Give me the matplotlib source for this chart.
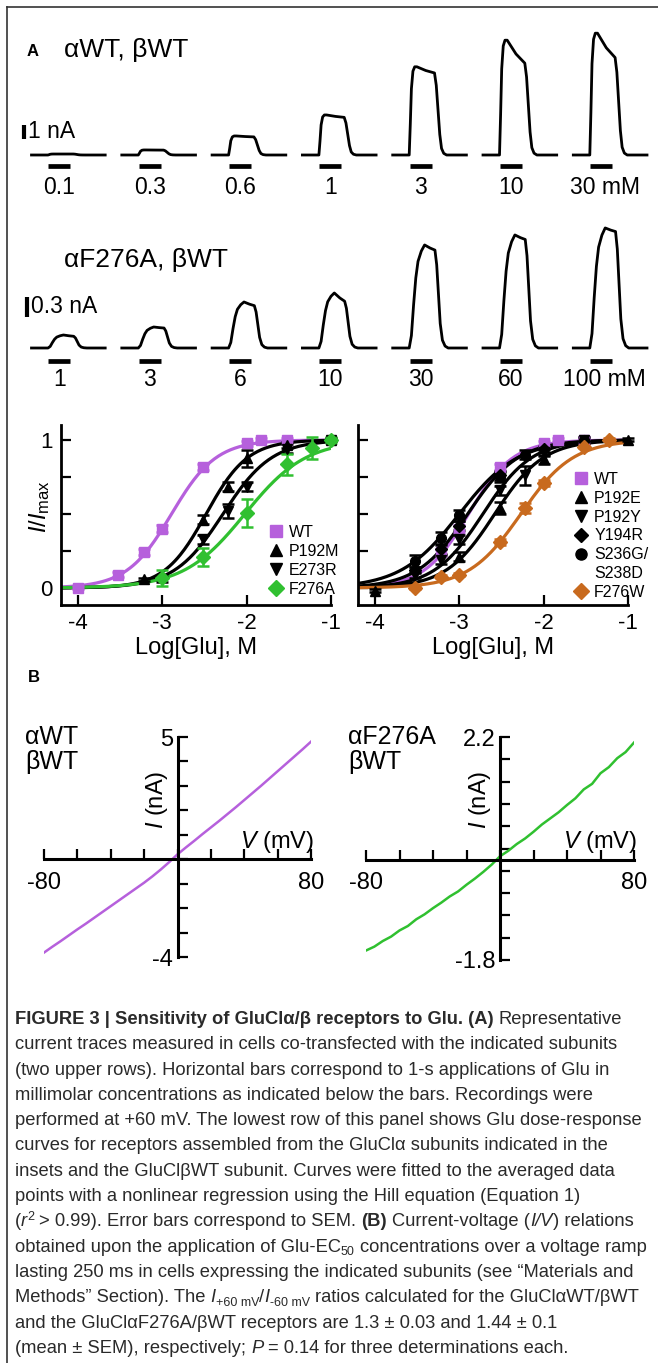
import numpy as np
import matplotlib
matplotlib.use("Agg")
import matplotlib.pyplot as plt
from matplotlib.lines import Line2D
from matplotlib import font_manager

# ---- data: current traces (peak amplitude in nA, fraction left at end of pulse)
conc_wt = ["0.1", "0.3", "0.6", "1", "3", "10", "30"]
amp_wt = [0.07, 0.36, 1.36, 2.86, 6.3, 8.2, 8.7]
sag_wt = [1.0, 0.97, 0.95, 0.94, 0.93, 0.80, 0.80]

conc_f276a = ["1", "3", "6", "10", "30", "60", "100"]
amp_f276a = [0.195, 0.315, 0.69, 0.825, 1.545, 1.695, 1.80]
sag_f276a = [0.90, 0.95, 0.92, 0.85, 0.95, 0.96, 0.97]

# normalised trace shapes read from the recordings (time in s)
fast_t = [0, 0.75, 0.80, 0.85, 0.92, 1.00, 1.10, 1.50, 1.90, 1.98, 2.06, 2.14, 2.22, 2.32, 2.45, 3.35]
fast_v = [0, 0, 0.35, 0.75, 0.95, 1.0, 1.0, 1.0, 1.0, 0.85, 0.55, 0.25, 0.08, 0.02, 0, 0]
fast_w = [0, 0, 0, 0, 0, 0, 0, 0.6, 1, 1, 1, 1, 1, 1, 1, 1]
slow_t = [0, 0.75, 0.85, 0.95, 1.05, 1.15, 1.30, 1.45, 1.70, 1.92, 2.00, 2.08, 2.16, 2.26, 2.38, 2.52, 3.35]
slow_v = [0, 0, 0.12, 0.42, 0.68, 0.84, 0.94, 1.0, 1.0, 1.0, 0.85, 0.55, 0.25, 0.08, 0.02, 0, 0]
slow_w = [0, 0, 0, 0, 0, 0, 0, 0, 0.6, 1, 1, 1, 1, 1, 1, 1, 1]

# ---- data: dose-response (concentration in mM, I/Imax, SEM, Hill fit logEC50 / nH)
wt_c = [0.1, 0.3, 0.6, 1, 3, 10, 15, 30]
wt_y = [0.0, 0.09, 0.245, 0.40, 0.815, 0.977, 1.0, 1.0]
wt_e = [0.01, 0.015, 0.02, 0.025, 0.02, 0.015, 0.01, 0.01]
wt_fit = (-2.89, 1.64)

p192m_c = [0.6, 3, 6, 10, 30, 100]
p192m_y = [0.06, 0.46, 0.685, 0.875, 0.965, 1.0]
p192m_e = [0.01, 0.03, 0.03, 0.06, 0.02, 0.01]
p192m_fit = (-2.48, 1.76)

e273r_c = [1, 3, 6, 10, 30, 100]
e273r_y = [0.06, 0.33, 0.52, 0.685, 0.94, 1.0]
e273r_e = [0.02, 0.03, 0.045, 0.03, 0.03, 0.01]
e273r_fit = (-2.28, 1.5)

f276a_c = [1, 3, 10, 30, 60, 100]
f276a_y = [0.065, 0.21, 0.505, 0.835, 0.945, 1.0]
f276a_e = [0.055, 0.06, 0.095, 0.07, 0.075, 0.02]
f276a_fit = (-2.02, 1.2)

p192e_c = [0.1, 1, 3, 10, 100]
p192e_y = [-0.02, 0.21, 0.54, 0.87, 1.0]
p192e_e = [0.01, 0.03, 0.04, 0.03, 0.01]
p192e_fit = (-2.58, 1.5)

p192y_c = [0.3, 0.6, 1, 3, 6, 10, 30]
p192y_y = [0.09, 0.19, 0.33, 0.66, 0.76, 0.92, 1.0]
p192y_e = [0.02, 0.03, 0.03, 0.03, 0.065, 0.03, 0.02]
p192y_fit = (-2.72, 1.5)

y194r_c = [0.3, 0.6, 1, 3, 10, 30]
y194r_y = [0.12, 0.26, 0.42, 0.76, 0.94, 0.99]
y194r_e = [0.02, 0.03, 0.03, 0.03, 0.02, 0.01]
y194r_fit = (-2.9, 1.45)

s236g_c = [0.3, 0.6, 1, 3, 6, 30]
s236g_y = [0.18, 0.34, 0.49, 0.75, 0.90, 1.0]
s236g_e = [0.04, 0.04, 0.035, 0.035, 0.03, 0.02]
s236g_fit = (-3.0, 1.25)

f276w_c = [0.3, 0.6, 1, 3, 6, 10, 30, 60]
f276w_y = [0.0, 0.075, 0.09, 0.31, 0.54, 0.71, 0.955, 1.0]
f276w_e = [0.01, 0.01, 0.01, 0.02, 0.035, 0.02, 0.01, 0.01]
f276w_fit = (-2.27, 1.4)

# ---- data: current-voltage ramps
iv_v = list(range(-80, 81, 5))
iv_wt = [-3.82, -3.58, -3.35, -3.11, -2.87, -2.64, -2.40, -2.16, -1.92, -1.68,
         -1.44, -1.20, -0.96, -0.70, -0.42, -0.12, 0.20, 0.48, 0.75, 1.03,
         1.30, 1.57, 1.85, 2.13, 2.42, 2.71, 3.00, 3.30, 3.60, 3.90, 4.20, 4.50, 4.81]
iv_f276a = [-1.63, -1.56, -1.46, -1.38, -1.27, -1.19, -1.07, -0.98, -0.87, -0.77,
            -0.66, -0.57, -0.45, -0.34, -0.22, -0.09, 0.06, 0.16, 0.28, 0.38,
            0.50, 0.63, 0.74, 0.85, 0.98, 1.10, 1.26, 1.36, 1.55, 1.66, 1.82, 1.93, 2.10]

PURPLE = "#b660dc"
GREEN = "#30c030"
ORANGE = "#c86a1e"

plt.rcParams['font.family'] = ['Liberation Sans', 'DejaVu Sans']
plt.rcParams['mathtext.fontset'] = 'custom'
plt.rcParams['mathtext.rm'] = 'Liberation Sans'
plt.rcParams['mathtext.it'] = 'Liberation Sans:italic'
plt.rcParams['mathtext.bf'] = 'Liberation Sans:bold'

W, H = 658, 1363
fig = plt.figure(figsize=(W / 100, H / 100), dpi=100)


def fx(x):
    return x / W


def fy(y):
    return 1 - y / H


def box(l, t, r, b):
    return fig.add_axes([fx(l), fy(b), (r - l) / W, (b - t) / H])


# frame
fig.add_artist(Line2D([fx(7), fx(7)], [fy(7), 0], color="#333333", lw=1.2))
fig.add_artist(Line2D([fx(7), 1], [fy(7), fy(7)], color="#333333", lw=1.2))

# ---------------- traces ----------------
PX_PER_S = 22.0
OFFSET = 90.3 / PX_PER_S
T0 = 31.5


def trace_row(top, bottom, base, px_per_na, amps, sags, labels, tt, vv, ww,
              bar_px, lab_px, scale_x, scale_bottom, scale_len, scale_text):
    ax = box(0, top, W, bottom)
    ax.set_xlim((0 - T0) / PX_PER_S, (W - T0) / PX_PER_S)
    ax.set_ylim((base - bottom) / px_per_na, (base - top) / px_per_na)
    ax.axis("off")
    tt = np.array(tt)
    vv = np.array(vv)
    ww = np.array(ww)
    for i, (a, s) in enumerate(zip(amps, sags)):
        ax.plot(i * OFFSET + tt, a * vv * (1 - ww * (1 - s)), color="k", lw=2.0)
        ax.plot([i * OFFSET + 0.77, i * OFFSET + 1.77], [(base - bar_px) / px_per_na] * 2,
                color="k", lw=3.4, solid_capstyle="butt")
        txt = labels[i] if i < len(labels) - 1 else labels[i] + " mM"
        dx = 0 if i < len(labels) - 1 else 0.15
        ax.text(i * OFFSET + 1.27 + dx, (base - lab_px) / px_per_na, txt,
                ha="center", va="center", fontsize=16.5)
    sx = (scale_x - T0) / PX_PER_S
    y0 = (base - scale_bottom) / px_per_na
    ax.plot([sx, sx], [y0, y0 + scale_len], color="k", lw=3.0, solid_capstyle="butt")
    ax.text(sx + 0.2, y0 + scale_len / 2, scale_text, ha="left", va="center", fontsize=16.5)
    return ax


trace_row(15, 200, 155, 14.0, amp_wt, sag_wt, conc_wt, fast_t, fast_v, fast_w,
          166, 187, 24, 139, 1.0, "1 nA")
trace_row(215, 395, 348, 66.7, amp_f276a, sag_f276a, conc_f276a, slow_t, slow_v, slow_w,
          361, 380, 27, 317, 0.3, "0.3 nA")

fig.text(fx(27), fy(52), "A", weight="bold", fontsize=12, va="center")
fig.text(fx(64), fy(50), "αWT, βWT", fontsize=19, va="center")
fig.text(fx(64), fy(260), "αF276A, βWT", fontsize=19, va="center")

# ---------------- dose-response ----------------
xfit = np.linspace(-4.2, -1.0, 200)


def hill(x, p):
    return 1 / (1 + 10 ** (p[1] * (p[0] - x)))


def dr_axes(l, r, series, show_ylab):
    ax = box(l, 425, r, 605)
    ax.set_xlim(-4.2, -1.0)
    ax.set_ylim(-0.115, 1.101)
    for sp in ["top", "right"]:
        ax.spines[sp].set_visible(False)
    for sp in ["left", "bottom"]:
        ax.spines[sp].set_linewidth(2.0)
    ax.set_xticks([-4, -3, -2, -1])
    ax.set_xticklabels(["-4", "-3", "-2", "-1"])
    ax.set_yticks([0, 0.25, 0.5, 0.75, 1])
    ax.set_yticklabels(["0", "", "", "", "1"] if show_ylab else [""] * 5)
    ax.tick_params(direction="in", length=7, width=1.6, labelsize=16, pad=6)
    for c, y, e, fit, col, m, ms in series:
        ax.plot(xfit, hill(xfit, fit), color=col, lw=2.3, zorder=2)
    for c, y, e, fit, col, m, ms in series:
        lc = np.log10(np.array(c) * 1e-3)
        cont = ax.errorbar(lc, y, yerr=e, fmt=m, color=col, ms=ms, capsize=4,
                           elinewidth=1.8, capthick=1.8, zorder=3)
        for art in cont.get_children():
            art.set_clip_on(False)
    ax.set_xlabel("Log[Glu], M", fontsize=17, labelpad=2)
    return ax


left_series = [
    (wt_c, wt_y, wt_e, wt_fit, PURPLE, "s", 7.5),
    (p192m_c, p192m_y, p192m_e, p192m_fit, "k", "^", 7.5),
    (e273r_c, e273r_y, e273r_e, e273r_fit, "k", "v", 7.5),
    (f276a_c, f276a_y, f276a_e, f276a_fit, GREEN, "D", 7),
]
right_series = [
    (wt_c[2:], wt_y[2:], wt_e[2:], wt_fit, PURPLE, "s", 7.5),
    (p192e_c, p192e_y, p192e_e, p192e_fit, "k", "^", 7.5),
    (p192y_c, p192y_y, p192y_e, p192y_fit, "k", "v", 7.5),
    (y194r_c, y194r_y, y194r_e, y194r_fit, "k", "D", 6.5),
    (s236g_c, s236g_y, s236g_e, s236g_fit, "k", "o", 7),
    (f276w_c, f276w_y, f276w_e, f276w_fit, ORANGE, "D", 7),
]
axl = dr_axes(61, 331, left_series, True)
axr = dr_axes(358, 628, right_series, False)
fig.text(fx(40), fy(507), r"$I/I_{\mathrm{max}}$", rotation=90, fontsize=17,
         ha="center", va="center")


def dr_legend(ax, series, labels, x, y):
    handles = [Line2D([], [], marker=s[5], color=s[4], ls="none", ms=s[6] + 1) for s in series]
    if len(labels) > len(handles):
        # second line of a two-line label: no marker
        handles.insert(labels.index("S238D"), Line2D([], [], ls="none"))
    ax.legend(handles, labels, loc="upper left", bbox_to_anchor=(fx(x), fy(y)),
              bbox_transform=fig.transFigure, frameon=False, fontsize=11.5,
              handlelength=0.8, handletextpad=0.4, labelspacing=0.24,
              borderpad=0, borderaxespad=0)


dr_legend(axl, left_series, ["WT", "P192M", "E273R", "F276A"], 270, 525)
dr_legend(axr, right_series, ["WT", "P192E", "P192Y", "Y194R", "S236G/", "S238D", "F276W"], 575, 472)

fig.text(fx(28), fy(678), "B", weight="bold", fontsize=12, va="center")

# ---------------- I/V ----------------


def iv_axes(l, r, t, b, v, i, col, ylim, yticks, ylabs, name, name_x, ylab_x, vlab_x):
    ax = box(l, t, r, b)
    ax.plot(v, i, color=col, lw=1.8)
    ax.set_xlim(-80, 80)
    ax.set_ylim(*ylim)
    for sp in ["top", "right"]:
        ax.spines[sp].set_visible(False)
    for sp in ["left", "bottom"]:
        ax.spines[sp].set_position(("data", 0))
        ax.spines[sp].set_linewidth(2.2)
    xt = list(range(-80, 81, 20))
    ax.set_xticks(xt)
    ax.set_xticklabels(["-80" if x == -80 else ("80" if x == 80 else "") for x in xt])
    ax.set_yticks(yticks)
    ax.set_yticklabels(ylabs)
    ax.tick_params(axis="x", direction="in", length=7, width=1.6, labelsize=17, pad=9)
    ax.tick_params(axis="y", direction="in", length=7, width=1.6, labelsize=17, pad=3)
    for k, line in enumerate(name):
        fig.text(fx(name_x), fy(737 + 25 * k), line, fontsize=18, va="center")
    fig.text(fx(ylab_x), fy(800), r"$I$ (nA)", rotation=90, fontsize=17, ha="center", va="center")
    fig.text(fx(vlab_x), fy(842), r"$V$ (mV)", fontsize=17, ha="center", va="center")
    return ax


wt_ticks = list(range(-4, 6))
iv_axes(44, 311, 737, 957, iv_v, iv_wt, PURPLE, (-4, 5), wt_ticks,
        ["-4" if t == -4 else ("5" if t == 5 else "") for t in wt_ticks],
        ["αWT", "βWT"], 25, 157, 277)
f_ticks = [round(-1.8 + 0.4 * k, 1) for k in range(11)]
iv_axes(366, 634, 737, 960, iv_v, iv_f276a, GREEN, (-1.8, 2.2), f_ticks,
        ["-1.8" if t == -1.8 else ("2.2" if t == 2.2 else "") for t in f_ticks],
        ["αF276A", "βWT"], 348, 480, 600)

# ---------------- caption ----------------
try:
    font_manager.findfont("Liberation Sans Narrow", fallback_to_default=False)
    cap_family = ["Liberation Sans Narrow", "DejaVu Sans"]
except Exception:
    cap_family = ["Liberation Sans", "DejaVu Sans"]

n, b, it, sup, sub = "n", "b", "i", "sup", "sub"
caption = [
    [("FIGURE 3 | Sensitivity of GluClα/β receptors to Glu. (A)", b), (" Representative", n)],
    [("current traces measured in cells co-transfected with the indicated subunits", n)],
    [("(two upper rows). Horizontal bars correspond to 1-s applications of Glu in", n)],
    [("millimolar concentrations as indicated below the bars. Recordings were", n)],
    [("performed at +60 mV. The lowest row of this panel shows Glu dose-response", n)],
    [("curves for receptors assembled from the GluClα subunits indicated in the", n)],
    [("insets and the GluClβWT subunit. Curves were fitted to the averaged data", n)],
    [("points with a nonlinear regression using the Hill equation (Equation 1)", n)],
    [("(", n), ("r", it), ("2", sup), (" > 0.99). Error bars correspond to SEM. ", n), ("(B)", b),
     (" Current-voltage (", n), ("I/V", it), (") relations", n)],
    [("obtained upon the application of Glu-EC", n), ("50", sub), (" concentrations over a voltage ramp", n)],
    [("lasting 250 ms in cells expressing the indicated subunits (see “Materials and", n)],
    [("Methods” Section). The ", n), ("I", it), ("+60 mV", sub), ("/", n), ("I", it), ("-60 mV", sub),
     (" ratios calculated for the GluClαWT/βWT", n)],
    [("and the GluClαF276A/βWT receptors are 1.3 ± 0.03 and 1.44 ± 0.1", n)],
    [("(mean ± SEM), respectively; ", n), ("P", it), (" = 0.14 for three determinations each.", n)],
]

renderer = fig.canvas.get_renderer()


def props(kind, size):
    return dict(family=cap_family, fontsize=size * (0.68 if kind in (sup, sub) else 1),
                weight="bold" if kind == b else "normal",
                style="italic" if kind == it else "normal", color="#2a2a2a")


def text_w(s, kind, size):
    if not s:
        return 0.0
    t1 = fig.text(0, 0, "|" + s + "|", **props(kind, size))
    t2 = fig.text(0, 0, "||", **props(kind, size))
    w = t1.get_window_extent(renderer).width - t2.get_window_extent(renderer).width
    t1.remove()
    t2.remove()
    return w


base_size = 12.0
w2 = text_w(caption[1][0][0], n, base_size)
cap_size = base_size * 604.0 / w2

for k, runs in enumerate(caption):
    x = 15.0
    yb = 1024 + 25.3 * k
    for s, kind in runs:
        body = s.strip(" ")
        lead = len(s) - len(s.lstrip(" "))
        trail = len(s) - len(s.rstrip(" "))
        x += text_w(" " * lead, kind, cap_size)
        dy = 0.0
        if kind == sup:
            dy = -0.45 * cap_size
        elif kind == sub:
            dy = 0.25 * cap_size
        fig.text(fx(x), fy(yb + dy), body, va="baseline", ha="left", **props(kind, cap_size))
        x += text_w(body, kind, cap_size)
        x += text_w(" " * trail, kind, cap_size)

fig.savefig("out.png", dpi=100)
